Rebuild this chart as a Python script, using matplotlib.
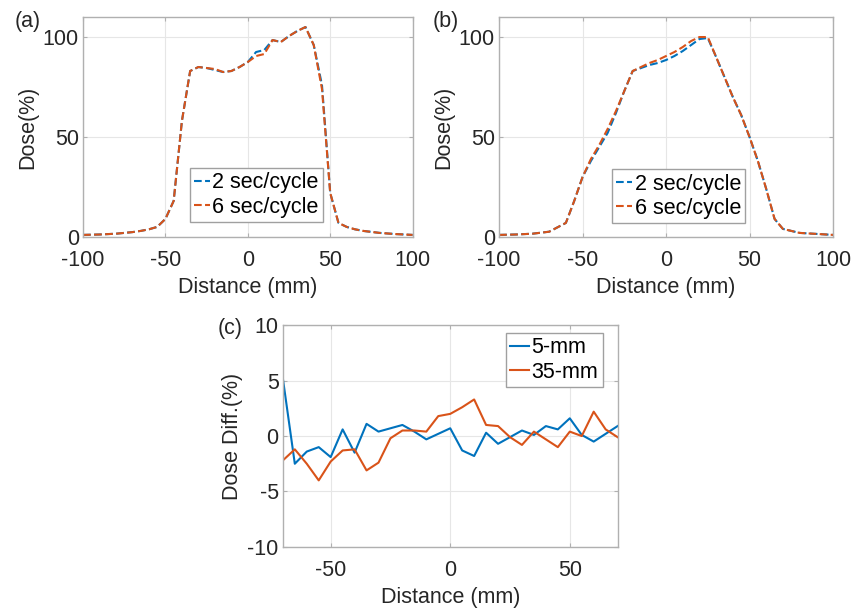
import matplotlib.pyplot as plt

plt.rcParams['font.family'] = ['Liberation Sans', 'DejaVu Sans']
plt.rcParams['axes.unicode_minus'] = False

# (a) dose profile, 5-mm
xa = [-100, -90, -80, -75, -70, -65, -60, -55, -50, -45, -40, -35, -30, -25, -20, -15, -10, -5,
      0, 5, 10, 15, 20, 25, 30, 35, 40, 45, 50, 55, 60, 65, 70, 80, 90, 100]
a_2s = [1, 1.2, 1.6, 2, 2.4, 3, 3.8, 5, 9, 18, 58, 83, 85, 84.5, 83.5, 82.5, 83, 85,
        87.5, 92.5, 93.5, 98.5, 97.5, 100.5, 103, 105, 96, 76, 22, 7, 5, 3.8, 3, 2, 1.4, 1]
a_6s = [1, 1.2, 1.6, 2, 2.4, 3, 3.8, 5, 9, 18, 58, 83, 85, 84.5, 84, 82.5, 83, 85,
        87.5, 90.5, 91.5, 98.5, 97.5, 100.5, 103, 105, 96, 74, 22, 7, 5, 3.8, 3, 2, 1.4, 1]

# (b) dose profile, 35-mm
xb = [-100, -90, -80, -70, -60, -55, -50, -45, -40, -35, -30, -25, -20, -15, -10, -5,
      0, 5, 10, 15, 20, 25, 30, 35, 40, 45, 50, 55, 60, 65, 70, 80, 90, 100]
b_2s = [1, 1.2, 1.6, 2.6, 7, 18, 30, 38, 45, 52, 62, 73, 83, 84.5, 86, 87,
        88.5, 90.5, 93, 96, 99, 99.5, 90, 80, 70, 61, 50, 38, 24, 9, 4, 2, 1.5, 1]
b_6s = [1, 1.2, 1.6, 2.6, 7, 18, 30, 39, 46, 54, 63, 73, 83, 85, 87, 88.5,
        90.5, 92.5, 95, 98, 100, 100, 90, 80, 70, 61, 50, 38, 24, 9, 4, 2, 1.5, 1]

# (c) dose difference
xc = list(range(-70, 75, 5))
c_5mm = [5.2, -2.5, -1.4, -1.0, -1.9, 0.6, -1.5, 1.1, 0.4, 0.7, 1.0, 0.4, -0.3, 0.2, 0.7,
         -1.3, -1.8, 0.3, -0.7, -0.1, 0.5, 0.1, 0.9, 0.6, 1.6, 0.1, -0.5, 0.2, 0.9]
c_35mm = [-2.2, -1.2, -2.5, -4.0, -2.3, -1.3, -1.2, -3.1, -2.4, -0.2, 0.5, 0.5, 0.4, 1.8, 2.0,
          2.6, 3.3, 1.0, 0.9, -0.1, -0.8, 0.4, -0.3, -1.0, 0.4, 0.0, 2.2, 0.6, -0.1]

blue = '#0072BD'
orange = '#D95319'
edge = '#b0b0b0'
txt = '#262626'
fs = 15.5


def style(ax):
    for s in ax.spines.values():
        s.set_color(edge)
        s.set_linewidth(1.0)
    ax.grid(True, color='#e6e6e6', linewidth=0.8)
    ax.set_axisbelow(True)
    ax.tick_params(direction='in', length=3, color=edge, labelsize=fs, labelcolor=txt,
                   top=True, right=True, labeltop=False, labelright=False)
    ax.tick_params(axis='x', pad=9.5)
    ax.tick_params(axis='y', pad=3)


def legend(ax, hl, **kw):
    ax.legend(fontsize=fs, handlelength=hl, handletextpad=0.1, borderpad=0.2,
              labelspacing=0.15, borderaxespad=0, fancybox=False,
              edgecolor='#a0a0a0', framealpha=1, **kw)


fig = plt.figure(figsize=(8.65, 6.09), dpi=100)

axa = fig.add_axes([0.096, 0.611, 0.381, 0.361])
axa.plot(xa, a_2s, '--', color=blue, lw=1.5, label='2 sec/cycle')
axa.plot(xa, a_6s, '--', color=orange, lw=1.5, label='6 sec/cycle')
axa.set_xlim(-100, 100)
axa.set_ylim(0, 110)
axa.set_xticks([-100, -50, 0, 50, 100])
axa.set_yticks([0, 50, 100])
axa.set_xlabel('Distance (mm)', fontsize=fs, color=txt, labelpad=4.5)
axa.set_ylabel('Dose(%)', fontsize=fs, color=txt, labelpad=3)
style(axa)
legend(axa, 0.75, loc='lower left', bbox_to_anchor=(0.324, 0.068))
fig.text(0.017, 0.955, '(a)', fontsize=fs, color=txt)

axb = fig.add_axes([0.577, 0.611, 0.386, 0.361])
axb.plot(xb, b_2s, '--', color=blue, lw=1.5, label='2 sec/cycle')
axb.plot(xb, b_6s, '--', color=orange, lw=1.5, label='6 sec/cycle')
axb.set_xlim(-100, 100)
axb.set_ylim(0, 110)
axb.set_xticks([-100, -50, 0, 50, 100])
axb.set_yticks([0, 50, 100])
axb.set_xlabel('Distance (mm)', fontsize=fs, color=txt, labelpad=4.5)
axb.set_ylabel('Dose(%)', fontsize=fs, color=txt, labelpad=3)
style(axb)
legend(axb, 0.75, loc='lower left', bbox_to_anchor=(0.338, 0.063))
fig.text(0.500, 0.955, '(b)', fontsize=fs, color=txt)

axc = fig.add_axes([0.327, 0.102, 0.387, 0.364])
axc.plot(xc, c_5mm, '-', color=blue, lw=1.5, label='5-mm')
axc.plot(xc, c_35mm, '-', color=orange, lw=1.5, label='35-mm')
axc.set_xlim(-70, 70)
axc.set_ylim(-10, 10)
axc.set_xticks([-50, 0, 50])
axc.set_yticks([-10, -5, 0, 5, 10])
axc.set_xlabel('Distance (mm)', fontsize=fs, color=txt, labelpad=4.5)
axc.set_ylabel('Dose Diff.(%)', fontsize=fs, color=txt, labelpad=3)
style(axc)
legend(axc, 0.9, loc='upper right', bbox_to_anchor=(0.955, 0.964))
fig.text(0.252, 0.452, '(c)', fontsize=fs, color=txt)

fig.savefig('out.png', dpi=100)
